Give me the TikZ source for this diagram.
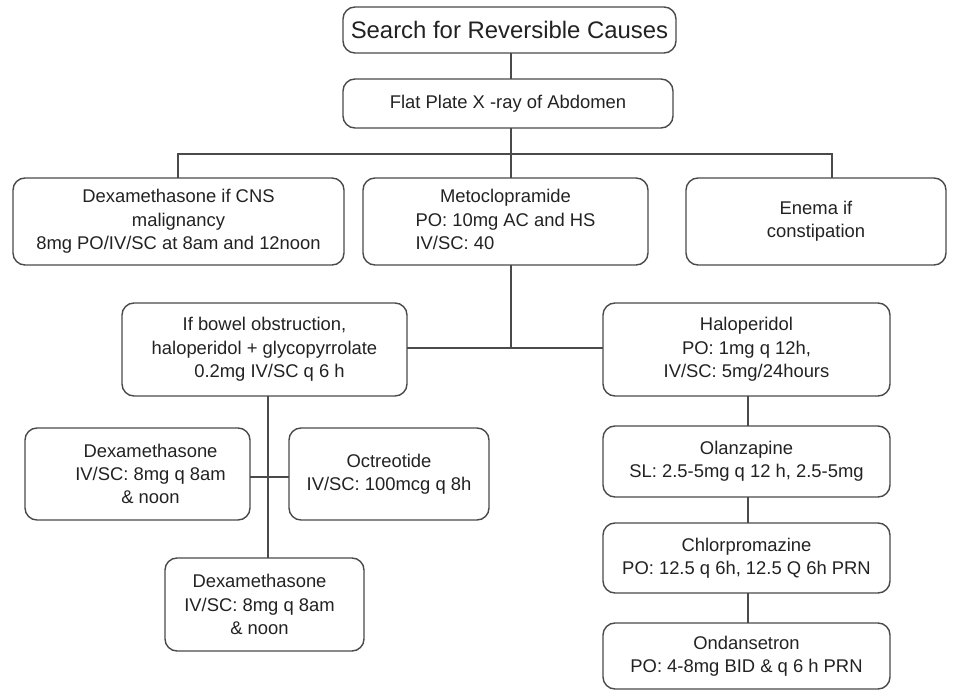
\documentclass[tikz,border=0pt]{standalone}
\usepackage{fontspec}
\setmainfont{Liberation Sans}
\definecolor{lc}{HTML}{4A4A4A}
\definecolor{tc}{HTML}{222222}
\begin{document}
\begin{tikzpicture}[x=1pt,y=-1pt,
  box/.style={draw=lc, line width=1.4pt, rounded corners=12pt, align=center, text=tc,
    font=\fontsize{18.4}{23.3}\selectfont, inner sep=0pt},
  conn/.style={draw=lc, line width=1.4pt}]
\useasboundingbox (0,0) rectangle (959,692);
\node[box, minimum width=333, minimum height=46, font=\fontsize{23.9}{28}\selectfont] (title) at (509.5,30) {Search for Reversible Causes};
\node[box, minimum width=330, minimum height=49] (flat) at (508,103.5) {Flat Plate X -ray of Abdomen};
\node[box, minimum width=331, minimum height=87] (dexa1) at (178.5,221.5) {Dexamethasone if CNS\\malignancy\\8mg PO/IV/SC at 8am and 12noon};
\node[box, minimum width=285, minimum height=87] (meto) at (505.5,221.5) {\renewcommand{\arraystretch}{1}\begin{tabular}{@{}l@{}}\multicolumn{1}{@{}c@{}}{Metoclopramide\hspace{12pt}}\\PO: 10mg AC and HS\\IV/SC: 40\end{tabular}};
\node[box, minimum width=260, minimum height=87] (enema) at (816,221.5) {Enema if\\constipation};
\node[box, minimum width=285, minimum height=93] (bowel) at (264.5,349.5) {If bowel obstruction,\\haloperidol + glycopyrrolate\\\hspace{10pt}0.2mg IV/SC q 6 h};
\node[box, minimum width=287, minimum height=93] (halo) at (746.5,349.5) {Haloperidol\\PO: 1mg q 12h,\\IV/SC: 5mg/24hours};
\node[box, minimum width=225, minimum height=92] (dexa2) at (137.5,474) {\hspace*{26pt}Dexamethasone\\\hspace*{26pt}IV/SC: 8mg q 8am\\\hspace*{26pt}\& noon};
\node[box, minimum width=200, minimum height=92] (octreo) at (389,474) {Octreotide\\IV/SC: 100mcg q 8h};
\node[box, minimum width=199, minimum height=93] (dexa3) at (264.5,604.5) {\mbox{Dexamethasone\hspace{10pt}}\\\mbox{IV/SC: 8mg q 8am\hspace{10pt}}\\\mbox{\& noon\hspace{10pt}}};
\node[box, minimum width=287, minimum height=71] (olan) at (746.5,461.5) {Olanzapine\\SL: 2.5-5mg q 12 h, 2.5-5mg};
\node[box, minimum width=287, minimum height=70] (chlor) at (746.5,558) {Chlorpromazine\\PO: 12.5 q 6h, 12.5 Q 6h PRN};
\node[box, minimum width=287, minimum height=66] (ondan) at (746.5,656) {Ondansetron\\PO: 4-8mg BID \& q 6 h PRN};
% connector coordinates
\coordinate (tb) at (511,53);
\coordinate (ft) at (511,79);
\coordinate (fb) at (511,128);
\coordinate (bus) at (511,154);
\coordinate (busL) at (178,154);
\coordinate (busR) at (832,154);
\coordinate (d1t) at (178,178);
\coordinate (mt) at (511,178);
\coordinate (et) at (832,178);
\coordinate (mb) at (511,265);
\coordinate (mj) at (511,348);
\coordinate (bw) at (407,348);
\coordinate (hw) at (603,348);
\coordinate (bb) at (268,396);
\coordinate (d3t) at (268,558);
\coordinate (dr) at (250,477);
\coordinate (ol) at (289,477);
\coordinate (hb) at (748,396);
\coordinate (olt) at (748,426);
\coordinate (olb) at (748,497);
\coordinate (ct) at (748,523);
\coordinate (cb) at (748,593);
\coordinate (ont) at (748,623);
\draw[conn] (tb) -- (ft);
\draw[conn] (fb) -- (bus);
\draw[conn] (d1t) -- (busL) -- (busR) -- (et);
\draw[conn] (bus) -- (mt);
\draw[conn] (mb) -- (mj);
\draw[conn] (bw) -- (hw);
\draw[conn] (bb) -- (d3t);
\draw[conn] (dr) -- (ol);
\draw[conn] (hb) -- (olt);
\draw[conn] (olb) -- (ct);
\draw[conn] (cb) -- (ont);
\end{tikzpicture}
\end{document}
